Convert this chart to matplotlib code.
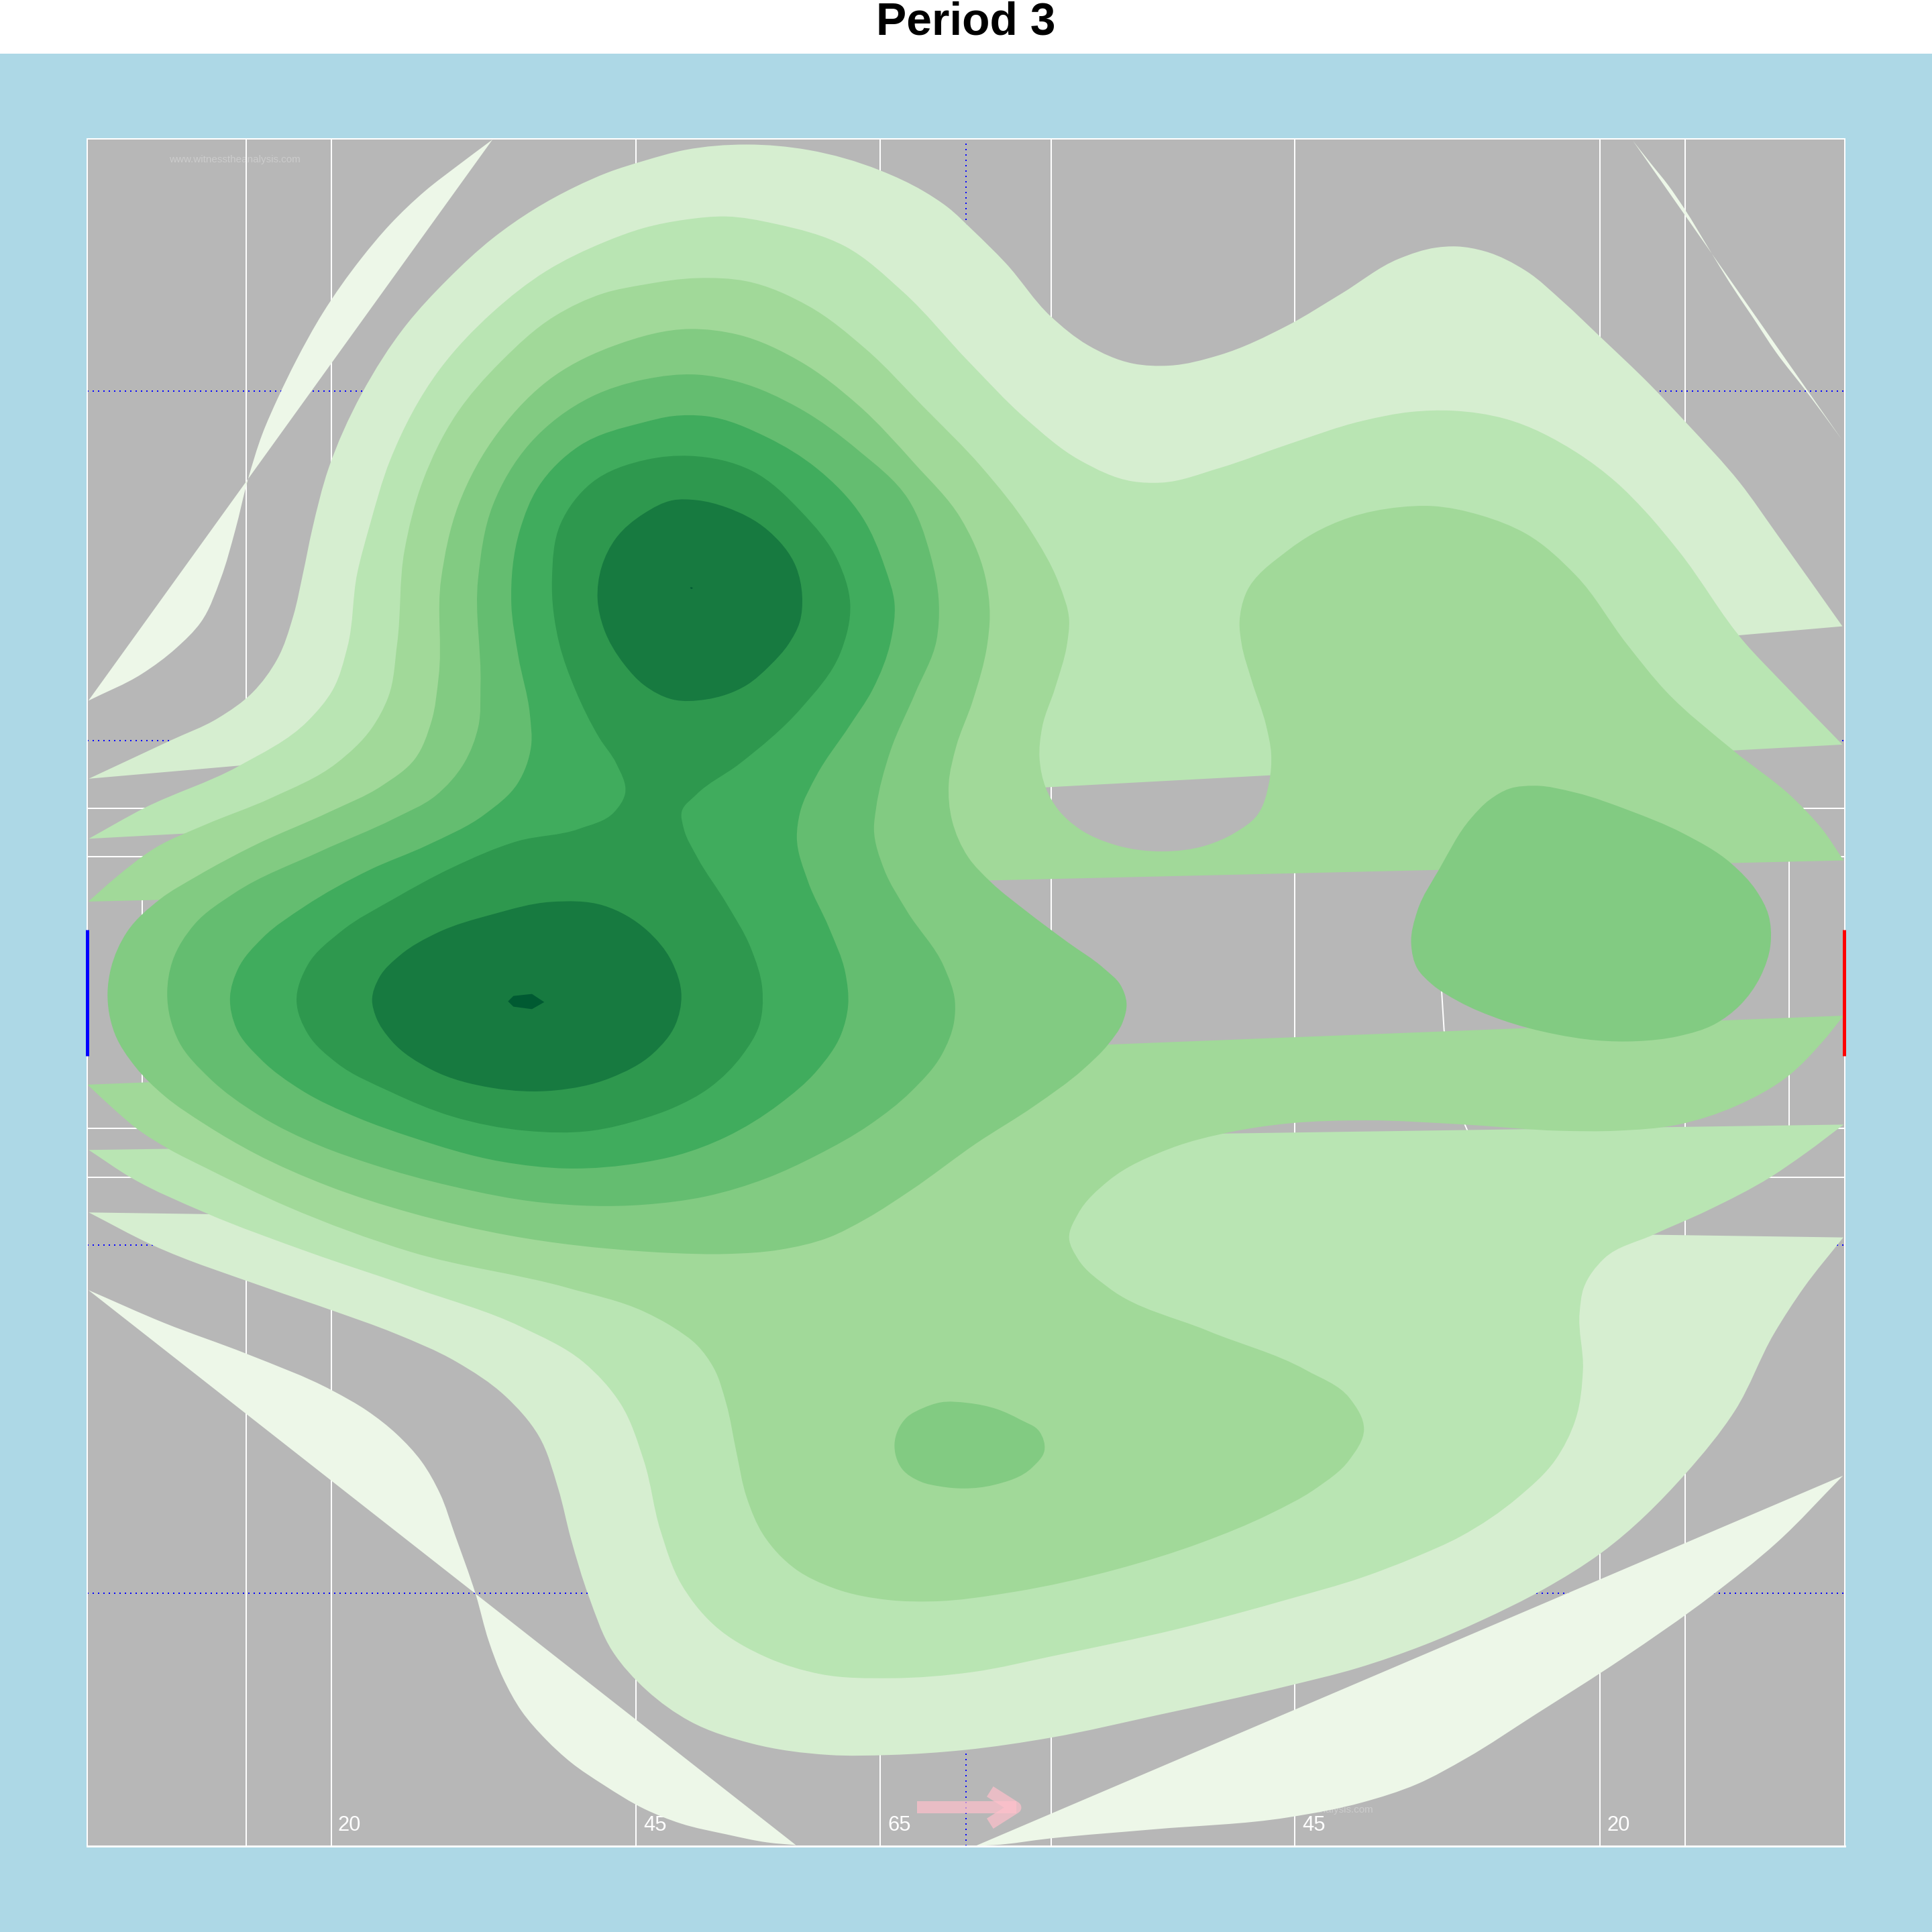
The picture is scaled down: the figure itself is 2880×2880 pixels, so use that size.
import matplotlib
matplotlib.use('Agg')
import matplotlib.pyplot as plt
from matplotlib.path import Path
from matplotlib.patches import PathPatch, Rectangle
import numpy as np

plt.rcParams['font.family'] = ['Liberation Sans', 'DejaVu Sans']

title = 'Period 3'
watermark = 'www.witnesstheanalysis.com'

# pitch lines
line_x = [199.7, 268.7, 516.3, 714.3, 853, 1050.7, 1298.3, 1367.7]
box_y = [656, 955.3]
small_box_y = [695, 915.7]
small_box_x = [115.3, 1452]
dotted_y = [317.3, 601, 1010.3, 1293.3]
halfway_x = 784
arc_x = [1169, 1170, 1172, 1176, 1182, 1189, 1192]
arc_y = [780, 804, 836, 865, 890, 913, 920]
metre_labels = ['20', '45', '65', '45', '20']
metre_label_x = [274, 522, 720.3, 1057, 1304]

# contour lines, lightest level first
level1_a = [(399.7,113.3),(372,134),(345,155),(316.7,182),(293,210),(262,254),(240,293.3),(226,322),(213,352),(201,390),(191,430),(179,470),(163,505),(143,526),(115,547),(71.7,568.7)]
level1_b = [(1325.3,114.3),(1340.3,133.3),(1353.7,150),(1367,169.3),(1387,202),(1403.7,229.3),(1422,256.7),(1442,286.7),(1465.3,316.7),(1495,357)]
level1_c = [(71.7,1047),(133.3,1073.7),(200,1098.7),(270,1128.7),(298,1145),(322,1164),(342,1186),(357,1212),(369,1245),(386,1293.7),(396.7,1332),(408.3,1362),(423.3,1388.7),(443.3,1412),(463.3,1430.3),(490,1448.7),(522.7,1468),(552.7,1480),(589.3,1488.7),(622.7,1495.3),(646,1497.5)]
level1_d = [(1495.7,1197.7),(1442,1252),(1388.7,1295.3),(1315.3,1347),(1245.3,1392),(1190,1427),(1150,1448),(1105,1463),(1045.3,1475),(936,1484.7),(852.7,1492),(806,1497.5),(792,1498)]

level2_top = [(72,632),(138.3,601),(176.7,583),(205,562),(225,535),(238,500),(246,465),(253.3,430),(266.7,380),(293.3,320),(330,263.3),(363.3,226.7),(400,193.3),(433.3,170),(466.7,151.7),(493.3,140),(522.7,130.5),(556,121.7),(606,117.3),(656,121.7),(714.3,138.3),(749.3,155),(769.3,168.3),(789.3,186.7),(816,213.3),(852.7,256.7),(882.7,280),(919.3,295),(949.3,296.7),(989.3,288.3),(1045.3,264),(1088.7,238.3),(1135.3,210),(1165.3,201),(1182,200),(1205.3,204),(1238.7,220),(1268.7,245),(1298.7,273.3),(1338.7,311.7),(1368.7,343.3),(1412,391.7),(1442,433.3),(1495.3,508.3)]
level2_bottom = [(72,984),(123.3,1010.3),(216.7,1045.3),(270,1063.7),(320,1082),(370,1105),(410,1133),(437,1165),(453,1208),(463.3,1248.7),(478,1296),(497,1340),(525,1372),(560,1397),(610,1415),(672.7,1424.3),(722.7,1424.3),(782.7,1420.3),(852.7,1410.3),(939.3,1392),(1045.3,1368.3),(1102,1353.7),(1155.3,1335.3),(1202,1315.3),(1252,1290.3),(1300,1260),(1368,1196),(1408,1145),(1440,1082),(1464,1045),(1496,1004.3)]

level3_top = [(72,680.7),(116.7,656),(193.3,622),(250,585),(270,560),(282,525),(290,465),(300,426.7),(316.7,373.3),(356.7,300),(400,253.3),(443.3,220),(490,196.7),(522.7,185),(556,178.3),(589.3,175.7),(629.3,181.7),(686,200),(732.7,236.7),(786,293.3),(832.7,340),(876,373.3),(919.3,390.7),(942.7,391.7),(989.3,380),(1045.3,360.7),(1105.3,341.7),(1145.3,334.3),(1178.7,333.3),(1222,340),(1278.7,366.7),(1312,391.7),(1335.3,415),(1362,446.7),(1417,522.7),(1445.3,552.7),(1495.3,604.3)]
level3_bottom = [(72,933.3),(106.7,956),(166.7,984.3),(250,1016),(336,1045.3),(423.3,1077),(473.3,1105.3),(503.3,1138.7),(522.7,1186),(536,1242),(552.7,1285.3),(579.3,1318.7),(622.7,1345.3),(666,1358.7),(722.7,1362),(789.3,1357),(856,1343.7),(956,1322),(1045.3,1298),(1105.3,1280.3),(1148.7,1263.7),(1185.3,1247),(1232,1215.3),(1262,1185.3),(1278.7,1152),(1284.7,1112),(1282,1065.3),(1285.3,1045.3),(1302,1021.3),(1342,1002),(1385.3,982.7),(1437,955.3),(1465.3,936),(1496.3,912.7)]

level4_top = [(71.7,731.7),(93.3,712.7),(126.7,687.7),(166.7,669.3),(220,647.7),(273.3,619.3),(301.7,591),(315,566),(322.3,522.7),(328.3,446.7),(343.3,390),(370,336.7),(406.7,293.3),(450,256.7),(490,238),(522.7,231),(566,225.7),(606,228.3),(656,248.3),(702.7,283.3),(749.3,330),(796,378.3),(836,430),(859.3,473.3),(867.7,503.3),(866,522.7),(856,559.3),(846,589.3),(843.7,616),(848.7,639.3),(859.3,657.7),(876,672.7),(906,686),(942.7,691),(979.3,686),(1002,676),(1020,662),(1030,635),(1031.7,612),(1027.7,589.3),(1016,552.7),(1007.7,522.7),(1006,505),(1011,482),(1045.3,446.7),(1065.3,433.3),(1095.3,420),(1135.3,411.7),(1162,410.7),(1202,418.3),(1238.7,433.3),(1278.7,466.7),(1320.3,522.7),(1352,561),(1407,609.3),(1455.3,647.7),(1478.7,672.7),(1496.3,698.3)]
level4_bottom = [(71,880.3),(93.3,901),(111,916),(137.3,932.7),(166.7,947.7),(233.3,979.3),(333.3,1016),(461,1045.3),(522.7,1064.5),(546,1077),(566,1092),(579.3,1110.3),(589.3,1138.7),(597.7,1178.7),(606,1215.3),(619.3,1245.3),(646,1273.7),(676,1288.7),(722.7,1298.7),(756,1299.7),(822.7,1292),(906,1273.7),(975,1252),(1030,1229),(1068,1208),(1095,1185),(1107,1160),(1095.3,1134.7),(1060,1112),(980,1080),(900,1045.3),(875,1022),(867.7,1005),(875,985),(900,958),(950,932),(1000,918.5),(1045.3,911.8),(1108.7,909.3),(1188.7,912.7),(1265.3,917.7),(1312,917.7),(1362,912.7),(1408.7,897.7),(1452,872.7),(1478.7,846),(1496.3,824.3)]

level5_main = [(87.3,806),(90,786),(103.3,756),(130,729.7),(160,711),(206.7,686),(266.7,659.3),(310,637.7),(336.7,616),(350,586),(356,549.3),(358,470),(372,410),(405,350),(450,305),(500,280),(560,267),(599.3,271.7),(649.3,293.3),(696,328.3),(742.7,376.7),(779.3,420),(799.3,466.7),(803.3,500),(801.3,522.7),(789.3,569.3),(776,606),(770,636),(772.7,666),(786,696),(804.3,716),(832.7,739.3),(866,764.3),(896,786),(909.3,799.3),(914.3,814.3),(911,830),(899.3,847.7),(879.3,867.7),(839.3,897.7),(792.7,927.7),(739.3,966),(702.7,989.3),(672.7,1004.3),(632.7,1014.3),(589.3,1017.7),(546,1017),(522.7,1015.7),(413.3,1002.7),(333.3,984.3),(266.7,962.7),(206.7,936),(166.7,912.7),(133.3,889.3),(110,866),(93.3,839.3),(87.3,806)]
level5_right = [(1145.3,766),(1150.3,739.3),(1168.7,704.3),(1193.7,664.3),(1208.7,649.3),(1225.3,640),(1245.3,637.7),(1278.7,643.3),(1322,657.7),(1365.3,676),(1405.3,701),(1425.3,722.7),(1435.3,742.7),(1437,766),(1428.7,792.7),(1412,816),(1392,831),(1362,841),(1328.7,845),(1295.3,844.3),(1262,839.3),(1218.7,827.7),(1183.7,812.7),(1162,798.7),(1150.3,786),(1145.3,766)]
level5_low = [(726,1172),(736,1150.3),(749.3,1142.7),(762.7,1138.3),(786,1138.7),(809.3,1143.7),(827.7,1152),(843.7,1162),(847.7,1177),(837.7,1191),(806,1205.3),(782.7,1208),(762.7,1206.3),(747.7,1202.7),(732,1192),(726,1172)]

level6_main = [(135.7,806),(140,780),(158,750),(190,725),(260,691),(320,664.3),(353.3,646),(376.7,619.3),(388.3,589.3),(390,556),(388,470),(400,410),(430,360),(480,322),(522.7,308),(565,304),(599.3,310),(649.3,331.7),(696,365),(737,405),(755,450),(762,490),(760,520),(742.7,562.7),(722.7,609.3),(711,656),(709.3,672.7),(717.7,706),(736,739.3),(766,784.3),(775,812.7),(774.3,829.3),(764.3,856),(739.3,886),(706,912.7),(662.7,937.7),(622.7,956),(572.7,971),(522.7,977.7),(440,976),(366.7,962.7),(300,944.3),(260,930),(210,905),(170,875),(145,845),(135.7,806)]

level7_main = [(186.7,809.3),(193.3,786),(213.3,761),(246.7,736),(300,706),(346.7,686),(393.3,661),(420,636),(431,606),(430,579.3),(420.7,532.7),(415,490),(422,430),(437,395),(470,362),(522.7,342.7),(546,337.7),(572.7,337.7),(622.7,355),(662.7,380),(700,420),(718,460),(726,490),(723,520),(708,560),(689.3,589.3),(662.7,629.3),(649.3,659.3),(646.7,679.3),(656,716),(672.7,752.7),(686,789.3),(688.3,816),(682.7,839.3),(662.7,869.3),(632.7,896),(589.3,922.7),(549.3,937.7),(522.7,943.3),(460,948.3),(406.7,942.7),(333.3,922.7),(290,907),(245,885),(212,860),(192,835),(186.7,809.3)]

level8_main = [(240.7,812.7),(250,782.7),(276.7,756),(320,729.3),(366.7,704.3),(420,682.7),(470,672.7),(498.3,659.3),(507.3,644.3),(500,619.3),(486.7,599.3),(466.7,559.3),(454,522.7),(448,470),(455,425),(480,392),(525,373),(560,370),(610,382),(650,415),(680,455),(690,490),(682,530),(650,575),(600,620),(565,645),(553.3,658.7),(555,672.7),(566,696),(589.3,732.7),(609.3,769.3),(618.7,802.7),(616,832.7),(602.7,856),(576,882.7),(546,899.3),(522.7,907.7),(480,917.7),(426.7,917.7),(366.7,906),(316.7,886),(273.3,862.7),(250,839.3),(240.7,812.7)]

level9_upper = [(522.7,416.7),(500,436.7),(488.3,460),(485,486.7),(490,510),(506.7,539.3),(522.7,556),(546,567.7),(572.7,567.7),(606,556),(625,540),(640,522.7),(649,505),(651,483.3),(646,460),(622.7,430),(589.3,411.7),(566,406),(546,406),(522.7,416.7)]
level9_lower = [(302,812),(308,793),(325,775),(355,757),(400,742),(447,732),(490,735),(525,755),(545,780),(553,808),(548,832),(530,855),(495,875),(450,885),(400,883),(350,868),(318,845),(305,825),(302,812)]

# the two darkest spots are small enough to stay as plain polygons
level10_lower = [(412.3,812.7),(416.7,808.3),(431.7,806.7),(441.7,813.3),(431.7,819),(416.7,817)]
level10_upper = [(560,477),(561,476.5),(562.5,477.3),(561,478)]

level_colors = ['#EDF7E8', '#D6EED0', '#B9E5B3', '#A1D999', '#82CB82', '#64BD70', '#40AC5D', '#2E984E', '#177A40', '#005A32']
levels = [
    [level1_a, level1_b, level1_c, level1_d],
    [level2_top, level2_bottom],
    [level3_top, level3_bottom],
    [level4_top, level4_bottom],
    [level5_main, level5_right, level5_low],
    [level6_main],
    [level7_main],
    [level8_main],
    [level9_upper, level9_lower],
]


def contour_path(points):
    # smooth curve through the points, the gap from last to first is closed straight
    p = np.array(points, dtype=float)
    closed = np.allclose(p[0], p[-1])
    n = len(p)
    seg = p[1:] - p[:-1]
    lens = np.hypot(seg[:, 0], seg[:, 1])
    units = seg / lens[:, None]
    tangents = np.zeros_like(p)
    tangents[0] = units[0]
    tangents[-1] = units[-1]
    for i in range(1, n - 1):
        t = units[i - 1] * lens[i] + units[i] * lens[i - 1]
        tangents[i] = t / np.hypot(*t)
    if closed:
        t = units[-1] * lens[0] + units[0] * lens[-1]
        tangents[0] = tangents[-1] = t / np.hypot(*t)
    verts = [p[0]]
    codes = [Path.MOVETO]
    for i in range(n - 1):
        h = lens[i] / 3
        verts += [p[i] + tangents[i] * h, p[i + 1] - tangents[i + 1] * h, p[i + 1]]
        codes += [Path.CURVE4] * 3
    verts.append(p[0])
    codes.append(Path.CLOSEPOLY)
    return Path(verts, codes)


size = 1568
x0, x1, y0, y1 = 71, 1497, 112.7, 1498.2
white_lw = 1.44

fig = plt.figure(figsize=(28.8, 28.8), dpi=100, facecolor='white')
fig.patches.append(Rectangle((0, 0), 1, 1 - 80 / 2880, transform=fig.transFigure, facecolor='lightblue', edgecolor='none', zorder=-1))
ax = fig.add_axes([x0 / size, 1 - y1 / size, (x1 - x0) / size, (y1 - y0) / size], facecolor='#B7B7B7')
ax.set_xlim(x0, x1)
ax.set_ylim(y1, y0)
ax.set_xticks([])
ax.set_yticks([])
for s in ax.spines.values():
    s.set_color('white')
    s.set_linewidth(white_lw)
    s.set_zorder(4)
ax.spines['bottom'].set_linewidth(2.1)

# pitch markings sit under the density
ax.text(137, 132, watermark, color='#CCCCCC', fontsize=11, zorder=1)
ax.text(1008, 1471, watermark, color='#CCCCCC', fontsize=11, zorder=1)
for x in line_x:
    ax.axvline(x, color='white', lw=white_lw, zorder=2)
for y in box_y:
    ax.plot([x0, line_x[0]], [y, y], color='white', lw=white_lw, zorder=2)
    ax.plot([line_x[-1], x1], [y, y], color='white', lw=white_lw, zorder=2)
for y in small_box_y:
    ax.plot([x0, small_box_x[0]], [y, y], color='white', lw=white_lw, zorder=2)
    ax.plot([small_box_x[1], x1], [y, y], color='white', lw=white_lw, zorder=2)
for x in small_box_x:
    ax.plot([x, x], small_box_y, color='white', lw=white_lw, zorder=2)
ax.plot(arc_x, arc_y, color='white', lw=white_lw, zorder=2)
for y in dotted_y:
    ax.axhline(y, color='blue', lw=white_lw, ls=(0, (1, 3)), zorder=2.2)
ax.axvline(halfway_x, color='blue', lw=white_lw, ls=(0, (1, 3)), zorder=2.2)
for label, x in zip(metre_labels, metre_label_x):
    ax.text(x, 1486, label, color='white', fontsize=22.3, zorder=2.3)

for color, shapes in zip(level_colors, levels):
    for shape in shapes:
        ax.add_patch(PathPatch(contour_path(shape), facecolor=color, edgecolor='none', lw=0, zorder=3))
for spot in [level10_lower, level10_upper]:
    xs, ys = zip(*spot)
    ax.fill(xs, ys, color=level_colors[9], lw=0, zorder=3)

# goals
ax.plot([x0, x0], [754.7, 857], color='blue', lw=3.6, solid_capstyle='butt', clip_on=False, zorder=5)
ax.plot([x1 - 0.5, x1 - 0.5], [754.7, 857], color='red', lw=3.6, solid_capstyle='butt', clip_on=False, zorder=5)

# attacking direction
ax.plot([744.3, 825], [1467, 1467], color='pink', alpha=0.7, lw=13, solid_capstyle='butt', zorder=6)
ax.plot([803.5, 824, 803.5], [1454, 1467, 1480], color='pink', alpha=0.7, lw=13, solid_capstyle='butt', solid_joinstyle='round', zorder=6)

fig.text(0.5, 1 - 52 / 2880, title, ha='center', va='baseline', fontsize=48.8, fontweight='bold', color='black')

fig.savefig('out.png', dpi=100, facecolor='white')
